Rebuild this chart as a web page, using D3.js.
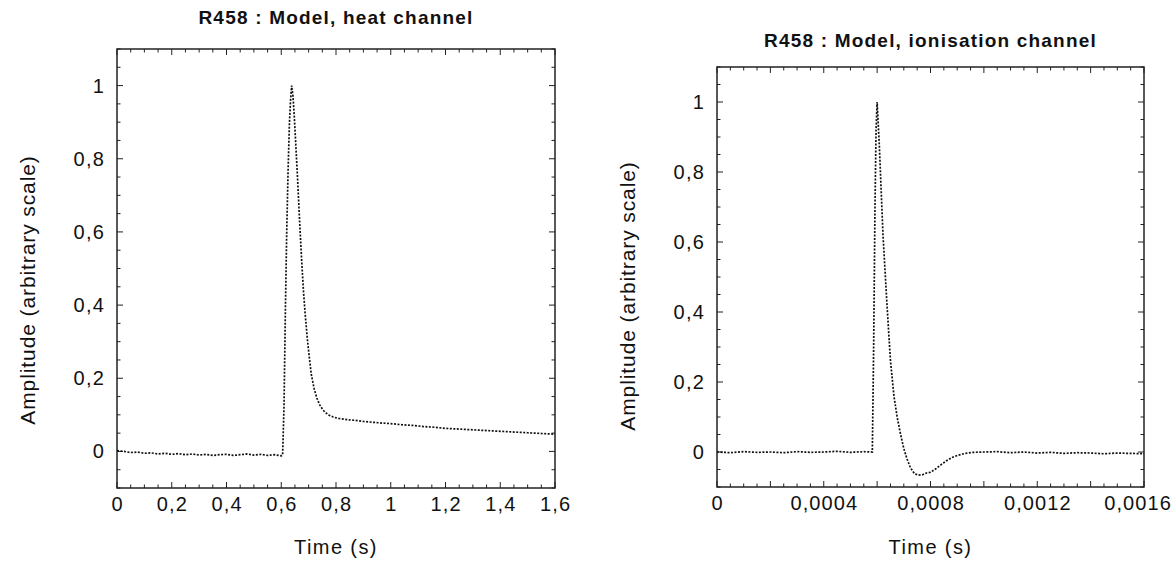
<!DOCTYPE html>
<html>
<head>
<meta charset="utf-8">
<script src="https://cdn.jsdelivr.net/npm/d3@7"></script>
<style>
  body { margin: 0; background: #fff; }
  text { font-family: "Liberation Sans", Arial, sans-serif; fill: #111; }
</style>
</head>
<body>
<svg id="chart" width="1176" height="568"></svg>
<script>
// heat channel (time in s)
const heat_time = [0, 0.025, 0.05, 0.075, 0.1, 0.125, 0.15, 0.175, 0.2, 0.225, 0.25, 0.275, 0.3, 0.325, 0.35, 0.375,
  0.4, 0.425, 0.45, 0.475, 0.5, 0.525, 0.55, 0.575, 0.6, 0.605, 0.61, 0.615, 0.62, 0.625, 0.63, 0.634, 0.638,
  0.643, 0.648, 0.653, 0.66, 0.667, 0.674, 0.681, 0.688, 0.695, 0.702, 0.71, 0.72, 0.73, 0.74, 0.75, 0.76, 0.775,
  0.79, 0.81, 0.83, 0.85, 0.87, 0.9, 0.93, 0.96, 1.0, 1.04, 1.08, 1.12, 1.16, 1.2, 1.25, 1.3, 1.35, 1.4, 1.45,
  1.5, 1.55, 1.6];
const heat_amp = [0.002, 0.0, -0.003, -0.002, -0.005, -0.004, -0.007, -0.005, -0.008, -0.006, -0.009, -0.007, -0.01,
  -0.008, -0.011, -0.009, -0.008, -0.011, -0.009, -0.007, -0.01, -0.008, -0.011, -0.009, -0.012, -0.01, 0.12, 0.38,
  0.6, 0.77, 0.9, 0.96, 1.0, 0.97, 0.91, 0.84, 0.74, 0.63, 0.53, 0.44, 0.37, 0.31, 0.26, 0.21, 0.172, 0.146, 0.128,
  0.116, 0.107, 0.099, 0.094, 0.09, 0.088, 0.086, 0.085, 0.082, 0.08, 0.078, 0.076, 0.073, 0.071, 0.068, 0.066,
  0.063, 0.061, 0.059, 0.057, 0.055, 0.053, 0.051, 0.049, 0.047];

// ionisation channel (time in s)
const ion_time = [0, 0.00005, 0.0001, 0.00015, 0.0002, 0.00025, 0.0003, 0.00035, 0.0004, 0.00045, 0.0005, 0.00055,
  0.000582, 0.000587, 0.000592, 0.000596, 0.0006, 0.000608, 0.000622, 0.000637, 0.00065, 0.000663, 0.000675,
  0.000688, 0.0007, 0.000712, 0.000725, 0.00074, 0.000755, 0.00077, 0.000785, 0.0008, 0.00082, 0.00084, 0.00086,
  0.00088, 0.0009, 0.00093, 0.00096, 0.001, 0.00105, 0.0011, 0.00115, 0.0012, 0.00125, 0.0013, 0.00135, 0.0014,
  0.00145, 0.0015, 0.00155, 0.0016];
const ion_amp = [0.0, -0.002, 0.001, -0.001, 0.0, -0.002, 0.001, -0.001, 0.0, 0.002, -0.001, 0.001,
  0.0, 0.3, 0.7, 0.92, 1.0, 0.88, 0.62, 0.42, 0.26, 0.16, 0.1,
  0.05, 0.01, -0.02, -0.045, -0.062, -0.066, -0.065, -0.06, -0.058, -0.048, -0.036, -0.025,
  -0.016, -0.01, -0.004, -0.001, 0.0, 0.001, -0.002, 0.0, -0.003, -0.001, -0.004, -0.002, -0.003,
  -0.005, -0.003, -0.004, -0.005];

// tick values
const heat_ticks = [0, 0.2, 0.4, 0.6, 0.8, 1, 1.2, 1.4, 1.6];
const ion_ticks = [0, 0.0004, 0.0008, 0.0012, 0.0016];
const amp_ticks = [0, 0.2, 0.4, 0.6, 0.8, 1];

const comma = d => String(+d.toFixed(6)).replace('.', ',');

const svg = d3.select('#chart');
const W = +svg.attr('width');

function drawPanel(opt) {
  const x = d3.scaleLinear().domain(opt.xDomain).range([opt.left, opt.right]);
  const y = d3.scaleLinear().domain([-0.1, 1.1]).range([opt.bottom, opt.top]);
  const g = svg.append('g');

  const minorX = d3.range(0, 33).map(i => opt.xDomain[1] * i / 32);
  const minorY = d3.range(-2, 23).map(i => i * 0.05);

  // inward ticks on all four sides
  const tk = g.append('g').attr('stroke', '#222').attr('stroke-width', 1);
  minorX.forEach(v => {
    const len = opt.tickAt(v) ? 6 : 3.5;
    tk.append('line').attr('x1', x(v)).attr('x2', x(v)).attr('y1', opt.bottom).attr('y2', opt.bottom - len);
    tk.append('line').attr('x1', x(v)).attr('x2', x(v)).attr('y1', opt.top).attr('y2', opt.top + len);
  });
  minorY.forEach(v => {
    const major = Math.abs(Math.round(v / 0.2) * 0.2 - v) < 1e-9;
    const len = major ? 6 : 3.5;
    tk.append('line').attr('y1', y(v)).attr('y2', y(v)).attr('x1', opt.left).attr('x2', opt.left + len);
    tk.append('line').attr('y1', y(v)).attr('y2', y(v)).attr('x1', opt.right).attr('x2', opt.right - len);
  });

  g.append('rect')
    .attr('x', opt.left).attr('y', opt.top)
    .attr('width', opt.right - opt.left).attr('height', opt.bottom - opt.top)
    .attr('fill', 'none').attr('stroke', '#222').attr('stroke-width', 1.5);

  // tick labels; keep the last one inside the page like the original
  g.selectAll('.xl').data(opt.xTicks).enter().append('text')
    .attr('x', d => x(d) + 0.6).attr('y', opt.bottom + 23)
    .attr('text-anchor', 'middle').style('font-size', '20px').style('letter-spacing', '1.1px')
    .text(comma)
    .each(function () {
      const w = this.getComputedTextLength();
      const cx = +d3.select(this).attr('x');
      if (cx + w / 2 > W - 4) d3.select(this).attr('x', W - 4 - w / 2);
    });
  g.selectAll('.yl').data(amp_ticks).enter().append('text')
    .attr('x', opt.left - 12).attr('y', d => y(d) + 7)
    .attr('text-anchor', 'end').style('font-size', '20px').style('letter-spacing', '1.2px')
    .text(comma);

  const line = d3.line().x(d => x(d[0])).y(d => y(d[1]));
  g.append('path')
    .datum(opt.time.map((t, i) => [t, opt.amp[i]]))
    .attr('d', line)
    .attr('fill', 'none').attr('stroke', '#111').attr('stroke-width', 1.7)
    .attr('stroke-dasharray', '2,1.5');

  g.append('text')
    .attr('x', (opt.left + opt.right) / 2).attr('y', opt.titleY)
    .attr('text-anchor', 'middle').style('font-size', '19px').style('font-weight', 'bold')
    .style('letter-spacing', '1.2px')
    .text(opt.title);
  g.append('text')
    .attr('x', (opt.left + opt.right) / 2).attr('y', 554)
    .attr('text-anchor', 'middle').style('font-size', '20px').style('letter-spacing', '1.4px')
    .text('Time (s)');
  g.append('text')
    .attr('transform', `translate(${opt.yTitleX},${opt.yTitleY}) rotate(-90)`)
    .attr('text-anchor', 'middle').style('font-size', '21px').style('letter-spacing', '0.9px')
    .text('Amplitude (arbitrary scale)');
}

drawPanel({
  left: 117, right: 555, top: 49, bottom: 488,
  xDomain: [0, 1.6], xTicks: heat_ticks, time: heat_time, amp: heat_amp,
  tickAt: v => Math.abs(Math.round(v / 0.2) * 0.2 - v) < 1e-9,
  title: 'R458 : Model, heat channel', titleY: 24, yTitleX: 35, yTitleY: 290
});

drawPanel({
  left: 717, right: 1144, top: 67, bottom: 487,
  xDomain: [0, 0.0016], xTicks: ion_ticks, time: ion_time, amp: ion_amp,
  tickAt: v => Math.abs(Math.round(v / 0.0002) * 0.0002 - v) < 1e-12,
  title: 'R458 : Model, ionisation channel', titleY: 47, yTitleX: 635, yTitleY: 296
});
</script>
</body>
</html>
